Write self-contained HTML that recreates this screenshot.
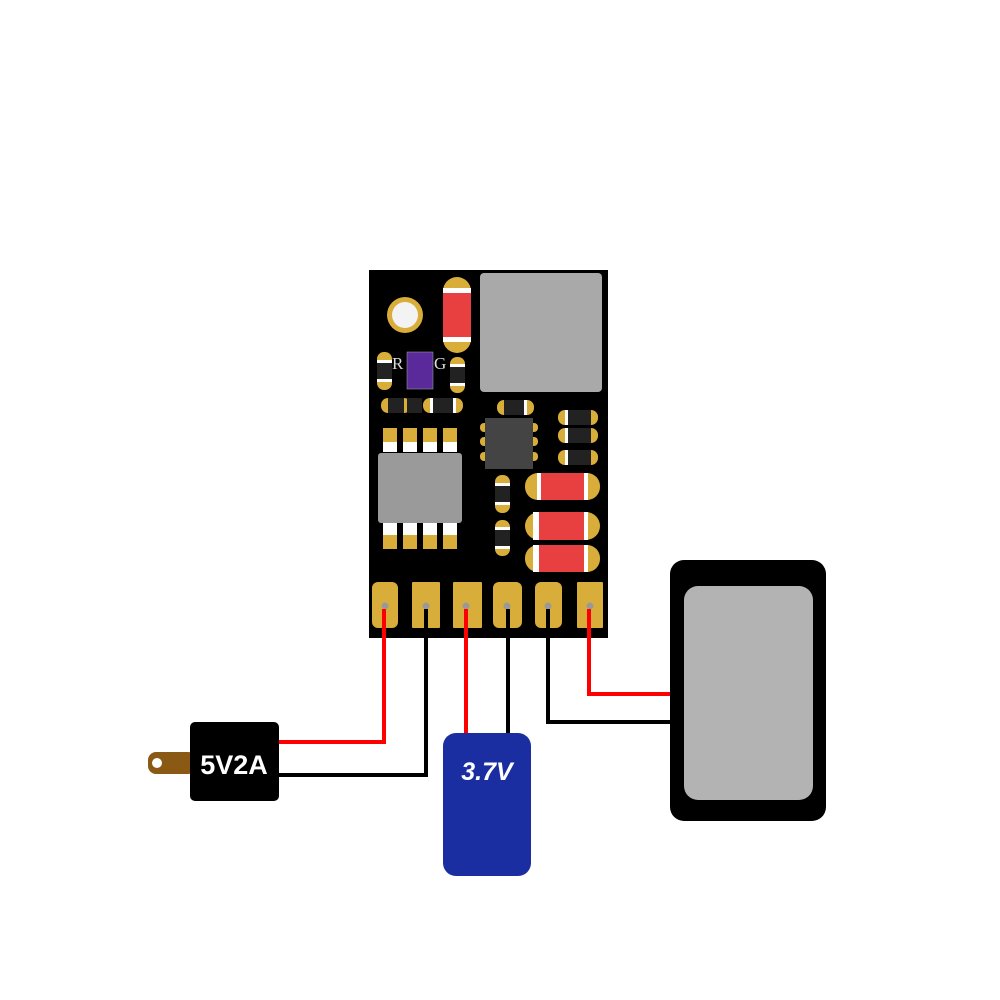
<!DOCTYPE html>
<html><head><meta charset="utf-8"><style>html,body{margin:0;padding:0;background:#fff;}svg{display:block}</style></head>
<body>
<svg width="1000" height="1000" viewBox="0 0 1000 1000" xmlns="http://www.w3.org/2000/svg">
<rect width="1000" height="1000" fill="#fff"/>
<!-- wires -->
<g fill="none" stroke-width="4">
<polyline points="384,607 384,742 278,742" stroke="#f00"/>
<polyline points="426,607 426,775 278,775" stroke="#000"/>
<polyline points="466,607 466,736" stroke="#f00"/>
<polyline points="508,607 508,736" stroke="#000"/>
<polyline points="548,607 548,722 672,722" stroke="#000"/>
<polyline points="589,607 589,694 672,694" stroke="#f00"/>
</g>
<!-- board -->
<rect x="369" y="270" width="239" height="368" fill="#000"/>
<!-- hole -->
<circle cx="405" cy="315" r="18" fill="#d9ad3a"/>
<circle cx="405" cy="315" r="13" fill="#f3f3f3"/>
<!-- red resistor top -->
<rect x="443" y="277" width="28" height="76" rx="14" fill="#d9ad3a"/>
<rect x="443" y="288" width="28" height="54" fill="#fff"/>
<rect x="443" y="293" width="28" height="44" fill="#e84040"/>
<!-- inductor -->
<rect x="480" y="273" width="122" height="119" rx="4" fill="#a9a9a9"/>
<!-- R G -->
<text x="392" y="369" font-family="Liberation Serif,serif" font-size="17" fill="#ddd">R</text>
<text x="434" y="369" font-family="Liberation Serif,serif" font-size="17" fill="#ddd">G</text>
<rect x="407" y="352" width="26" height="37" fill="#5b2a9a" stroke="#aaa" stroke-width="0.5"/>
<!-- small vertical parts -->
<g>
<rect x="377" y="352" width="15" height="38" rx="7" fill="#d9ad3a"/><rect x="377" y="360" width="15" height="22" fill="#fff"/><rect x="377" y="363" width="15" height="16" fill="#222"/>
<rect x="450" y="357" width="15" height="36" rx="7" fill="#d9ad3a"/><rect x="450" y="364" width="15" height="22" fill="#fff"/><rect x="450" y="367" width="15" height="16" fill="#222"/>
</g>
<!-- horizontal small parts -->
<g>
<rect x="381" y="398" width="30" height="15" rx="7" fill="#d9ad3a"/><rect x="388" y="398" width="16" height="15" fill="#222"/>
<rect x="407" y="398" width="15" height="15" fill="#222"/>
<rect x="423" y="398" width="40" height="15" rx="7" fill="#d9ad3a"/><rect x="430" y="398" width="26" height="15" fill="#222"/><rect x="430" y="398" width="3" height="15" fill="#fff"/><rect x="453" y="398" width="3" height="15" fill="#fff"/>
<rect x="497" y="400" width="37" height="15" rx="7" fill="#d9ad3a"/><rect x="504" y="400" width="23" height="15" fill="#222"/><rect x="524" y="400" width="3" height="15" fill="#fff"/>
<rect x="558" y="410" width="40" height="15" rx="7" fill="#d9ad3a"/><rect x="565" y="410" width="26" height="15" fill="#222"/><rect x="565" y="410" width="3" height="15" fill="#fff"/>
<rect x="558" y="428" width="40" height="15" rx="7" fill="#d9ad3a"/><rect x="565" y="428" width="26" height="15" fill="#222"/><rect x="565" y="428" width="3" height="15" fill="#fff"/>
<rect x="558" y="450" width="40" height="15" rx="7" fill="#d9ad3a"/><rect x="565" y="450" width="26" height="15" fill="#222"/><rect x="565" y="450" width="3" height="15" fill="#fff"/>
</g>
<!-- small chip -->
<g fill="#d9ad3a">
<rect x="480" y="423" width="10" height="9" rx="4"/><rect x="480" y="437" width="10" height="9" rx="4"/><rect x="480" y="452" width="10" height="9" rx="4"/>
<rect x="528" y="423" width="10" height="9" rx="4"/><rect x="528" y="437" width="10" height="9" rx="4"/><rect x="528" y="452" width="10" height="9" rx="4"/>
</g>
<rect x="485" y="418" width="48" height="51" fill="#444"/>
<!-- SOIC8 -->
<g>
<rect x="383" y="428" width="14" height="24" fill="#d9ad3a"/><rect x="383" y="442" width="14" height="10" fill="#fff"/>
<rect x="403" y="428" width="14" height="24" fill="#d9ad3a"/><rect x="403" y="442" width="14" height="10" fill="#fff"/>
<rect x="423" y="428" width="14" height="24" fill="#d9ad3a"/><rect x="423" y="442" width="14" height="10" fill="#fff"/>
<rect x="443" y="428" width="14" height="24" fill="#d9ad3a"/><rect x="443" y="442" width="14" height="10" fill="#fff"/>
<rect x="383" y="523" width="14" height="26" fill="#d9ad3a"/><rect x="383" y="523" width="14" height="12" fill="#fff"/>
<rect x="403" y="523" width="14" height="26" fill="#d9ad3a"/><rect x="403" y="523" width="14" height="12" fill="#fff"/>
<rect x="423" y="523" width="14" height="26" fill="#d9ad3a"/><rect x="423" y="523" width="14" height="12" fill="#fff"/>
<rect x="443" y="523" width="14" height="26" fill="#d9ad3a"/><rect x="443" y="523" width="14" height="12" fill="#fff"/>
<rect x="378" y="453" width="84" height="70" rx="3" fill="#9a9a9a"/>
</g>
<!-- vertical parts under chip -->
<rect x="495" y="475" width="15" height="38" rx="7" fill="#d9ad3a"/><rect x="495" y="483" width="15" height="22" fill="#fff"/><rect x="495" y="486" width="15" height="16" fill="#222"/>
<rect x="495" y="520" width="15" height="36" rx="7" fill="#d9ad3a"/><rect x="495" y="527" width="15" height="22" fill="#fff"/><rect x="495" y="530" width="15" height="16" fill="#222"/>
<!-- red caps -->
<g>
<rect x="525" y="473" width="75" height="27" rx="13" fill="#d9ad3a"/><rect x="537" y="473" width="51" height="27" fill="#fff"/><rect x="541" y="473" width="43" height="27" fill="#e84040"/>
<rect x="525" y="512" width="75" height="28" rx="14" fill="#d9ad3a"/><rect x="533" y="512" width="55" height="28" fill="#fff"/><rect x="539" y="512" width="45" height="28" fill="#e84040"/>
<rect x="525" y="545" width="75" height="27" rx="13" fill="#d9ad3a"/><rect x="533" y="545" width="55" height="27" fill="#fff"/><rect x="539" y="545" width="45" height="27" fill="#e84040"/>
</g>
<!-- bottom pads -->
<g fill="#d9ad3a">
<rect x="372" y="582" width="26" height="46" rx="6"/>
<rect x="412" y="582" width="28" height="46" rx="1"/>
<rect x="453" y="582" width="29" height="46" rx="1"/>
<rect x="493" y="582" width="29" height="46" rx="6"/>
<rect x="535" y="582" width="27" height="46" rx="6"/>
<rect x="577" y="582" width="26" height="46" rx="1"/>
</g>
<g fill="#999">
<circle cx="385" cy="606" r="3.5"/><circle cx="426" cy="606" r="3.5"/><circle cx="466" cy="606" r="3.5"/>
<circle cx="507" cy="606" r="3.5"/><circle cx="548" cy="606" r="3.5"/><circle cx="590" cy="606" r="3.5"/>
</g>
<g stroke-width="4">
<line x1="384" y1="609" x2="384" y2="640" stroke="#f00"/>
<line x1="426" y1="609" x2="426" y2="640" stroke="#000"/>
<line x1="466" y1="609" x2="466" y2="640" stroke="#f00"/>
<line x1="508" y1="609" x2="508" y2="640" stroke="#000"/>
<line x1="548" y1="609" x2="548" y2="640" stroke="#000"/>
<line x1="589" y1="609" x2="589" y2="640" stroke="#f00"/>
</g>
<!-- adapter -->
<rect x="148" y="752" width="48" height="22" rx="8" fill="#8a5a14"/>
<circle cx="157" cy="763" r="5" fill="#fff"/>
<rect x="190" y="722" width="89" height="79" rx="5" fill="#000"/>
<text x="234" y="774" text-anchor="middle" font-family="Liberation Sans,sans-serif" font-weight="bold" font-size="27" fill="#fff">5V2A</text>
<!-- battery -->
<rect x="443" y="733" width="88" height="143" rx="13" fill="#1a2ea2"/>
<text x="487" y="780" text-anchor="middle" font-family="Liberation Sans,sans-serif" font-weight="bold" font-style="italic" font-size="25" fill="#fff">3.7V</text>
<!-- speaker -->
<rect x="670" y="560" width="156" height="261" rx="14" fill="#000"/>
<rect x="684" y="586" width="129" height="214" rx="14" fill="#b3b3b3"/>
</svg>
</body></html>
